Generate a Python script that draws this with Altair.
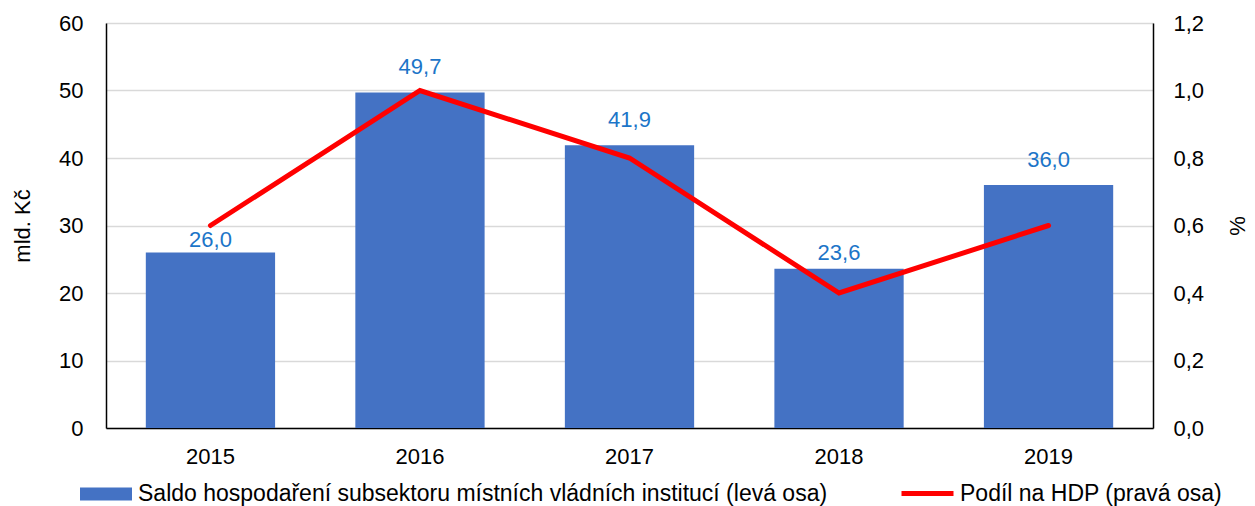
import altair as alt
import pandas as pd

years = ["2015", "2016", "2017", "2018", "2019"]
saldo = [26.0, 49.7, 41.9, 23.6, 36.0]
podil = [0.6, 1.0, 0.8, 0.4, 0.6]
# where each value label sits on the left axis (mld. Kč)
label_at = [27.8, 53.5, 45.6, 26.0, 39.7]
bar_name = "Saldo hospodaření subsektoru místních vládních institucí (levá osa)"
line_name = "Podíl na HDP (pravá osa)"

df = pd.DataFrame({
    "rok": years,
    "saldo": saldo,
    "podil": podil,
    "label_at": label_at,
    "label": [f"{v:.1f}".replace(".", ",") for v in saldo],
    "bar_series": [bar_name] * len(years),
    "line_series": [line_name] * len(years),
})

FONT = "Liberation Sans"
FS = 22
LFS = 23
W, H = 1047, 405

x = alt.X("rok:N", title=None,
          scale=alt.Scale(paddingInner=0.383, paddingOuter=0.19),
          axis=alt.Axis(labelAngle=0, labelFontSize=FS, labelFont=FONT, labelColor="black",
                        ticks=False, labelPadding=18, domainColor="black", domainWidth=1.5,
                        grid=False))

base = alt.Chart(df)

bars = base.mark_bar().encode(
    x=x,
    y=alt.Y("saldo:Q", scale=alt.Scale(domain=[0, 60]),
            axis=alt.Axis(values=[0, 10, 20, 30, 40, 50, 60], title="mld. Kč",
                          titleFontSize=FS, titleFont=FONT, titleFontWeight="normal",
                          titleColor="black", titleAngle=-90, titleX=-84, titleY=H / 2,
                          titleBaseline="middle", titleAlign="center",
                          labelFontSize=FS, labelFont=FONT, labelColor="black",
                          ticks=False, labelPadding=23, domainColor="black", domainWidth=1.5,
                          gridColor="#D9D9D9", gridWidth=1.5)),
    color=alt.Color("bar_series:N", scale=alt.Scale(range=["#4472C4"]),
                    legend=alt.Legend(orient="none", legendX=-13, legendY=458, title=None,
                                      symbolType="M-2,-0.5H2V0.5H-2Z", symbolSize=676,
                                      symbolStrokeWidth=0, padding=0, labelOffset=19,
                                      labelFontSize=LFS, labelFont=FONT, labelColor="black",
                                      labelLimit=1000)),
)

line = base.mark_line(strokeWidth=5, strokeCap="round", strokeJoin="miter").encode(
    x=x,
    y=alt.Y("podil:Q", scale=alt.Scale(domain=[0, 1.2]),
            axis=alt.Axis(orient="right", values=[0, 0.2, 0.4, 0.6, 0.8, 1.0, 1.2],
                          labelExpr="replace(format(datum.value, '.1f'), '.', ',')",
                          title="%", titleFontSize=FS, titleFont=FONT, titleFontWeight="normal",
                          titleColor="black", titleAngle=-90, titleX=84, titleY=H / 2,
                          titleBaseline="middle", titleAlign="center",
                          labelFontSize=FS, labelFont=FONT, labelColor="black",
                          ticks=False, labelPadding=20, domainColor="black", domainWidth=1.5,
                          grid=False)),
    stroke=alt.Stroke("line_series:N", scale=alt.Scale(range=["#FF0000"]),
                      legend=alt.Legend(orient="none", legendX=793, legendY=442, title=None,
                                        symbolType="stroke", symbolSize=2704,
                                        symbolStrokeWidth=5, padding=0, labelOffset=4,
                                        labelFontSize=LFS, labelFont=FONT, labelColor="black",
                                        labelLimit=1000)),
)

texts = base.mark_text(baseline="middle", fontSize=FS, font=FONT,
                       color="#1C75C8").encode(
    x=x,
    y=alt.Y("label_at:Q", scale=alt.Scale(domain=[0, 60]), axis=None),
    text="label:N",
)

chart = alt.layer(bars, line, texts).resolve_scale(
    y="independent", color="independent"
).properties(
    width=W, height=H,
    autosize=alt.AutoSizeParams(type="none"),
    padding={"left": 98, "top": 15, "right": 94, "bottom": 78},
).configure_view(stroke=None).configure(background="white")

chart.save("out.html", embed_options={"renderer": "svg", "actions": False})
